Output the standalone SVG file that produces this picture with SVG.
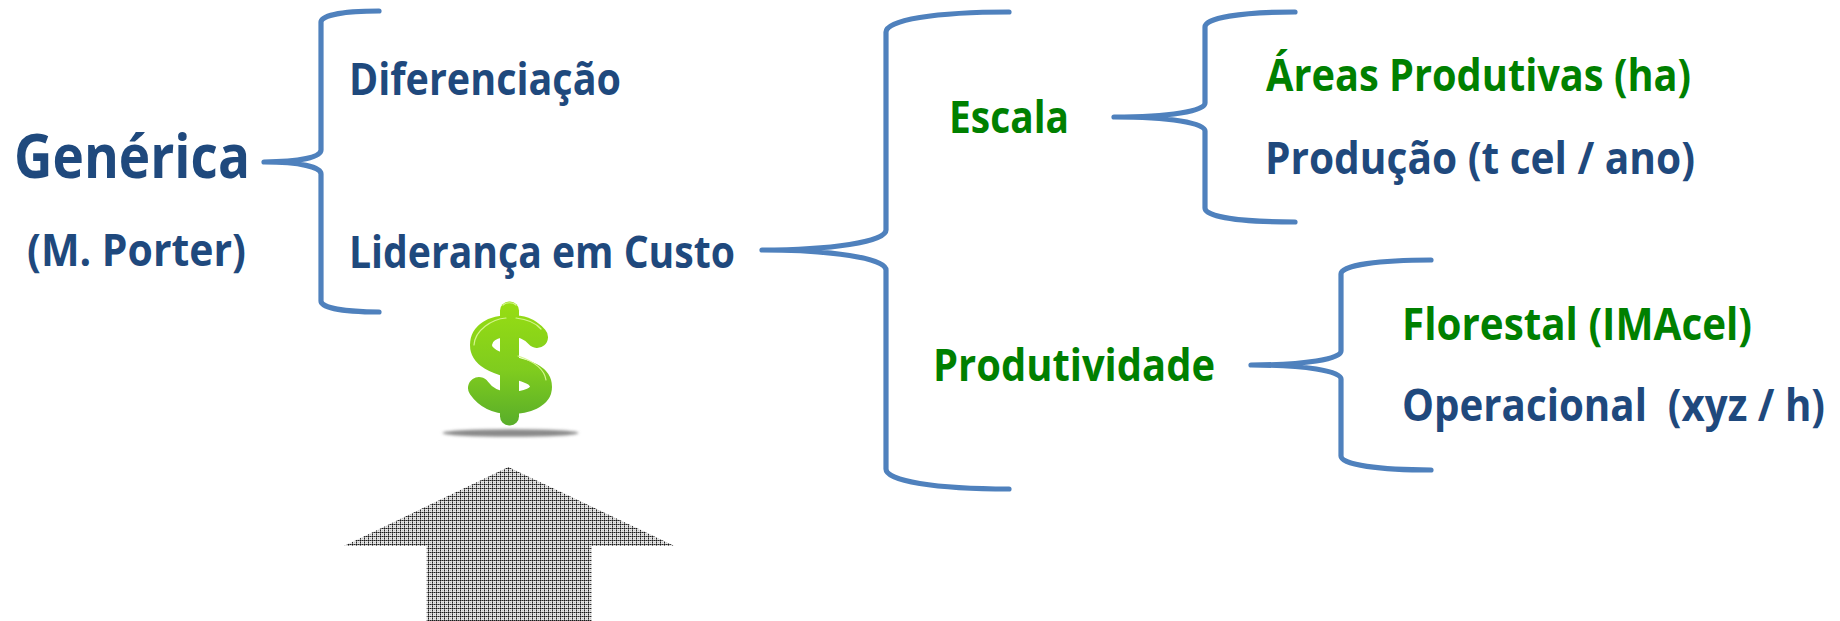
<svg xmlns="http://www.w3.org/2000/svg" width="1840" height="621" viewBox="0 0 1840 621">
<style>
text{font-family:"Open Sans","Noto Sans","Liberation Sans",sans-serif;font-weight:700;white-space:pre}
.b{fill:#1f497d}.g{fill:#008000}
.s{font-size:44px}
.br{fill:none;stroke:#4f81bd;stroke-width:5.2;stroke-linecap:round;stroke-linejoin:round}
</style>
<defs>
<pattern id="dots" width="4" height="4" patternUnits="userSpaceOnUse">
<rect width="4" height="4" fill="#e4e4e4"/>
<rect y="0" width="4" height="1" fill="#777"/>
<rect x="0" width="1" height="4" fill="#777"/>
<rect x="2" y="2" width="1" height="1" fill="#bbb"/>
<rect x="0" y="0" width="1" height="1" fill="#111"/>
<rect x="2" y="0" width="1" height="1" fill="#222"/>
<rect x="0" y="2" width="1" height="1" fill="#222"/>
</pattern>
<linearGradient id="dg" gradientUnits="userSpaceOnUse" x1="0" y1="300" x2="0" y2="426">
<stop offset="0" stop-color="#98de12"/><stop offset=".55" stop-color="#80cc1e"/><stop offset="1" stop-color="#58ad2a"/>
</linearGradient>
<filter id="bl" x="-10%" y="-100%" width="120%" height="300%"><feGaussianBlur stdDeviation="1.6"/></filter>
</defs>
<rect width="1840" height="621" fill="#fff"/>
<g id="connectors">
<path class="br" d="M379 11C345 11 321 15 321 22L321 150C321 157 300 162 264 162C300 162 321 167 321 174L321 301C321 308 345 312 379 312"/>
<path class="br" d="M1009 12C935 12 886 20 886 32L886 230C886 242 830 250 762 250C830 250 886 258 886 270L886 469C886 481 935 489 1009 489"/>
<path class="br" d="M1295 12C1240 12 1205 18 1205 27L1205 103C1205 111 1170 117 1114 117C1170 117 1205 123 1205 131L1205 208C1205 217 1240 222 1295 222"/>
<path class="br" d="M1431 260C1380 260 1341 265 1341 274L1341 351C1341 359 1305 365 1251 365C1305 365 1341 371 1341 379L1341 456C1341 465 1380 470 1431 470"/>
</g>
<g id="n-generica"><text x="14" y="178" class="b" font-size="61" textLength="236" lengthAdjust="spacingAndGlyphs">Genérica</text></g>
<g id="n-porter"><text x="27" y="266" class="b s" textLength="219" lengthAdjust="spacingAndGlyphs">(M. Porter)</text></g>
<g id="n-diferenciacao"><text x="349" y="95" class="b s" textLength="272" lengthAdjust="spacingAndGlyphs">Diferenciação</text></g>
<g id="n-lideranca"><text x="349" y="268" class="b s" textLength="386" lengthAdjust="spacingAndGlyphs">Liderança em Custo</text></g>
<g id="n-escala"><text x="949" y="133" class="g s" textLength="120" lengthAdjust="spacingAndGlyphs">Escala</text></g>
<g id="n-produtividade"><text x="933" y="381" class="g s" textLength="282" lengthAdjust="spacingAndGlyphs">Produtividade</text></g>
<g id="n-areas"><text x="1266" y="91" class="g s" textLength="425" lengthAdjust="spacingAndGlyphs">Áreas Produtivas (ha)</text></g>
<g id="n-producao"><text x="1265" y="174" class="b s" textLength="430" lengthAdjust="spacingAndGlyphs">Produção (t cel / ano)</text></g>
<g id="n-florestal"><text x="1402" y="340" class="g s" textLength="350" lengthAdjust="spacingAndGlyphs">Florestal (IMAcel)</text></g>
<g id="n-operacional"><text x="1402" y="421" class="b s" textLength="423" lengthAdjust="spacingAndGlyphs">Operacional  (xyz / h)</text></g>
<g id="dollar">
<ellipse cx="510.5" cy="433" rx="68" ry="3.8" fill="#8a8a8a" filter="url(#bl)"/>
<rect x="500" y="301.5" width="19" height="124" rx="9" fill="url(#dg)"/>
<path d="M537 337C529 328 521 326 510 326C493 326 481 333 481 345C481 358 497 363 510 367C527 371 541 375 541 387C541 397 527 403 510 403C497 403 486 398 479 388" fill="none" stroke="url(#dg)" stroke-width="22" stroke-linecap="round"/>
<path d="M474 345C475 330 492 319 506 318M503 305C506 302 513 302 516 305M516 318C525 319 535 322 541 329M518 356C530 360 544 367 546 380" fill="none" stroke="#d4f58c" stroke-width="1.2" stroke-linecap="round"/>
</g>
<g id="arrow">
<path d="M508.3 467L674.5 546L591.7 546L591.7 621L426.7 621L426.7 546L344 546Z" fill="url(#dots)"/>
</g>
</svg>
